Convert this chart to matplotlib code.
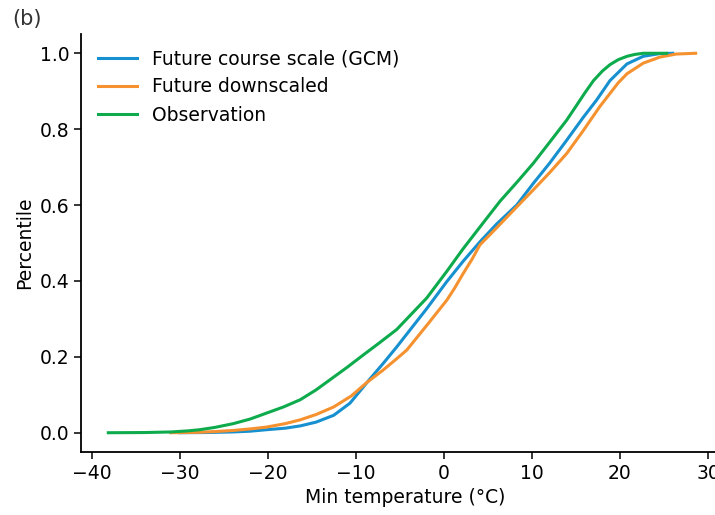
import matplotlib
matplotlib.use("Agg")
import matplotlib.pyplot as plt

# ---- data ----
gcm_temp = [-30, -27, -24, -22, -20.1, -18, -16.3, -14.5, -12.5, -10.65, -8.38, -6.87,
            -5.35, -3.46, -1.94, 0.33, 2.2, 4.1, 6.0, 8.28, 10.16, 12.0, 13.96, 15.8,
            17.36, 18.87, 20.8, 22.65, 24.5, 26.0]
gcm_pct = [0, 0.0005, 0.002, 0.004, 0.008, 0.012, 0.018, 0.028, 0.046, 0.078, 0.142, 0.183,
           0.226, 0.282, 0.327, 0.398, 0.452, 0.503, 0.55, 0.6, 0.657, 0.71, 0.771, 0.83,
           0.877, 0.928, 0.972, 0.992, 0.999, 1.0]

down_temp = [-31, -28, -26, -23.9, -22, -20.1, -18, -16.3, -14.5, -12.5, -10.5, -8.76,
             -6.9, -5.35, -4.2, -1.76, 0.33, 1.2, 2.21, 3.2, 4.1, 6.0, 8.28, 10.16, 12.0,
             13.96, 15.8, 17.7, 18.3, 19.8, 20.8, 22.65, 24.55, 26.4, 28.6]
down_pct = [0, 0.001, 0.003, 0.006, 0.01, 0.015, 0.024, 0.034, 0.048, 0.068, 0.097, 0.132,
            0.165, 0.195, 0.218, 0.288, 0.349, 0.38, 0.42, 0.457, 0.495, 0.54, 0.595, 0.64,
            0.685, 0.736, 0.795, 0.859, 0.877, 0.922, 0.946, 0.974, 0.99, 0.998, 1.0]

obs_temp = [-38.1, -34, -31, -29, -27.7, -26, -23.9, -22, -20.1, -18.2, -16.3, -14.5,
            -12.9, -11, -9.14, -7.25, -5.35, -3.46, -1.94, 0.33, 2.2, 4.1, 6.38, 8.3,
            10.16, 12.0, 13.96, 15.0, 16.0, 17.0, 18.0, 18.87, 19.8, 20.8, 21.7, 22.65, 25.3]
obs_pct = [0, 0.0005, 0.002, 0.005, 0.008, 0.014, 0.024, 0.036, 0.052, 0.068, 0.087, 0.113,
           0.14, 0.172, 0.205, 0.238, 0.272, 0.318, 0.355, 0.425, 0.485, 0.542, 0.61, 0.66,
           0.71, 0.765, 0.824, 0.86, 0.895, 0.928, 0.953, 0.97, 0.983, 0.992, 0.997, 1.0, 1.0]

labels = ["Future course scale (GCM)", "Future downscaled", "Observation"]
colors = ["#1790d0", "#f5922f", "#0dab4c"]
x_ticks = [-40, -30, -20, -10, 0, 10, 20, 30]
y_ticks = [0.0, 0.2, 0.4, 0.6, 0.8, 1.0]

plt.rcParams['font.family'] = ['DejaVu Sans']
fig = plt.figure(figsize=(7.15, 5.15), dpi=100)
ax = fig.add_axes([81/715, 63.3/515, (730-81)/715, (480.7-63.3)/515])

for t, p, lab, c in zip([gcm_temp, down_temp, obs_temp], [gcm_pct, down_pct, obs_pct], labels, colors):
    ax.plot(t, p, color=c, lw=2.2, label=lab)

ax.set_xlim(-41.2, 32.5)
ax.set_ylim(-0.05, 1.05)
ax.set_xticks(x_ticks)
ax.set_yticks(y_ticks)
ax.set_yticklabels([f"{v:.1f}" for v in y_ticks])
ax.tick_params(labelsize=13.5, length=5, width=1.1)
ax.spines['top'].set_visible(False)
ax.spines['right'].set_visible(False)
for s in ['left', 'bottom']:
    ax.spines[s].set_linewidth(1.3)
ax.set_xlabel("Min temperature (°C)", fontsize=13.5)
ax.set_ylabel("Percentile", fontsize=13.5)
ax.legend(loc='upper left', frameon=False, fontsize=13.5, handlelength=2.1,
          bbox_to_anchor=(0.0, 1.005))
fig.text(12/715, 1 - 25/515, "(b)", fontsize=15, color="#333333")

fig.savefig("out.png", dpi=100)
